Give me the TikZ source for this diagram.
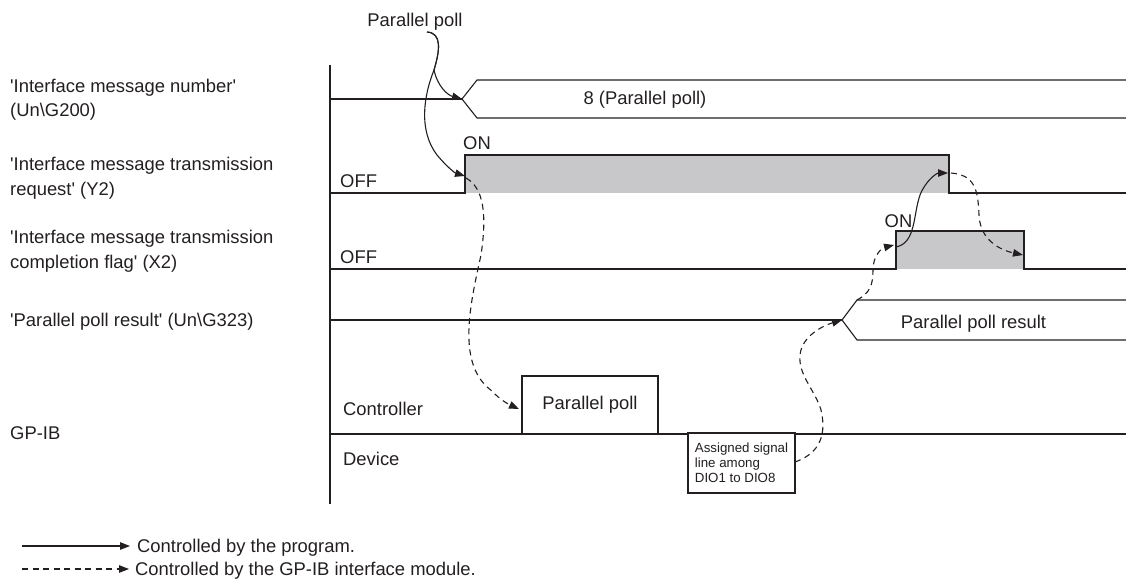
\documentclass[tikz,border=0pt]{standalone}
\usepackage{fontspec}
\setmainfont{Liberation Sans}[Ligatures=TeXOff]
\usetikzlibrary{arrows.meta}
\definecolor{ink}{RGB}{35,31,32}
\definecolor{fillgray}{RGB}{200,200,202}
\begin{document}
\begin{tikzpicture}[x=1pt,y=-1pt,
  lbl/.style={font=\fontsize{18.4}{24.5}\selectfont, inner sep=0pt, text=ink},
  small/.style={font=\fontsize{13.3}{15}\selectfont, text=ink},
  sig/.style={draw=ink, line width=1.1pt},
  prog/.style={draw=ink, line width=1.1pt, -{Triangle[length=10pt,width=7.5pt]}},
  mod/.style={draw=ink, line width=1.1pt, dash pattern=on 6pt off 4.5pt, -{Triangle[length=10pt,width=7.5pt]}},
  box/.style={draw=ink, line width=1.1pt, fill=white, inner sep=0pt}]
\useasboundingbox (0,0) rectangle (1126,580);

% left labels (base anchor = baseline of last line)
\node[lbl, anchor=base west, align=left] (lab1) at (10,117) {'Interface message number'\\(Un\textbackslash G200)};
\node[lbl, anchor=base west, align=left] (lab2) at (10,195) {'Interface message transmission\\request' (Y2)};
\node[lbl, anchor=base west, align=left] (lab3) at (10,268) {'Interface message transmission\\completion flag' (X2)};
\node[lbl, anchor=base west] (lab4) at (10,326) {'Parallel poll result' (Un\textbackslash G323)};
\node[lbl, anchor=base west] (lab5) at (10,439) {GP-IB};

% axis
\draw[sig] (330,65) -- (330,504);

% gray fills
\fill[fillgray] (465,155) rectangle (949,193);
\fill[fillgray] (896,231) rectangle (1024,269);

% row 1 bus
\coordinate (b1) at (462,99);
\draw[sig] (330,99) -- (b1);
\draw[sig] (1126,80) -- (477,80) -- (b1) -- (477,118) -- (1126,118);
\node[lbl, anchor=base] (v1) at (645,104.5) {8 (Parallel poll)};

% row 2 Y2
\draw[sig] (330,193) -- (465,193) -- (465,155) -- (949,155) -- (949,193) -- (1126,193);
\node[lbl, anchor=base] (on2) at (477,150) {ON};
\node[lbl, anchor=base west] (off2) at (340,188) {OFF};

% row 3 X2
\draw[sig] (330,269) -- (896,269) -- (896,231) -- (1024,231) -- (1024,269) -- (1126,269);
\node[lbl, anchor=base] (on3) at (898.5,227) {ON};
\node[lbl, anchor=base west] (off3) at (340,263) {OFF};

% row 4 bus
\coordinate (b4) at (842,320);
\draw[sig] (330,320) -- (b4);
\draw[sig] (1126,300) -- (857,300) -- (b4) -- (857,340) -- (1126,340);
\node[lbl, anchor=base] (v4) at (973.5,328) {Parallel poll result};

% row 5 GP-IB
\draw[sig] (330,434) -- (1126,434);
\node[lbl, anchor=base west] (ctl) at (343,415) {Controller};
\node[lbl, anchor=base west] (dev) at (343,465.5) {Device};
\node[box, lbl, minimum width=136pt, minimum height=58pt] (ppbox) at (590,405) {Parallel poll};
\node[box, small, align=left, minimum width=107pt, minimum height=60pt] (asg) at (741.5,463) {Assigned signal\\line among\\DIO1 to DIO8};

% top label
\node[lbl, anchor=base] (pp) at (415,26.5) {Parallel poll};

% connectors
\coordinate (s0) at (427,32);
\coordinate (y2r) at (465,176);
\coordinate (y2d) at (466,178);
\coordinate (ppl) at (519,409);
\coordinate (asr) at (795,462);
\coordinate (b4t) at (857,300);
\coordinate (x2r) at (894,245);
\coordinate (x2s) at (896,247);
\coordinate (y2f) at (948,173);
\coordinate (y2g) at (951,173);
\coordinate (x2f) at (1023,255);

\draw[prog] (s0) .. controls (442,33) and (440,50) .. (434,70) .. controls (437,85) and (447,95) .. (b1);
\draw[prog] (s0) .. controls (442,33) and (440,50) .. (434,70) .. controls (424,95) and (418,130) .. (437,155) .. controls (447,167) and (455,173) .. (y2r);
\draw[mod] (y2d) .. controls (484,188) and (487,215) .. (481,255) .. controls (470,305) and (456,365) .. (492,391) .. controls (500,400) and (510,405) .. (ppl);
\draw[mod] (asr) .. controls (815,455) and (828,440) .. (821,410) .. controls (815,390) and (798,375) .. (800,355) .. controls (802,335) and (825,325) .. (b4);
\draw[mod] (b4t) .. controls (870,293) and (873,285) .. (873,270) .. controls (873,255) and (882,248) .. (x2r);
\draw[prog] (x2s) .. controls (916,243) and (913,215) .. (920,195) .. controls (926,180) and (937,173) .. (y2f);
\draw[mod] (y2g) .. controls (975,175) and (978,190) .. (979,215) .. controls (980,240) and (1000,250) .. (x2f);

% legend
\coordinate (lg1a) at (22,546);
\coordinate (lg1b) at (130,546);
\coordinate (lg2a) at (22,569);
\coordinate (lg2b) at (129,569);
\draw[prog] (lg1a) -- (lg1b);
\draw[mod] (lg2a) -- (lg2b);
\node[lbl, anchor=base west] (lgt1) at (137,552.7) {Controlled by the program.};
\node[lbl, anchor=base west] (lgt2) at (135,575.5) {Controlled by the GP-IB interface module.};
\end{tikzpicture}
\end{document}
